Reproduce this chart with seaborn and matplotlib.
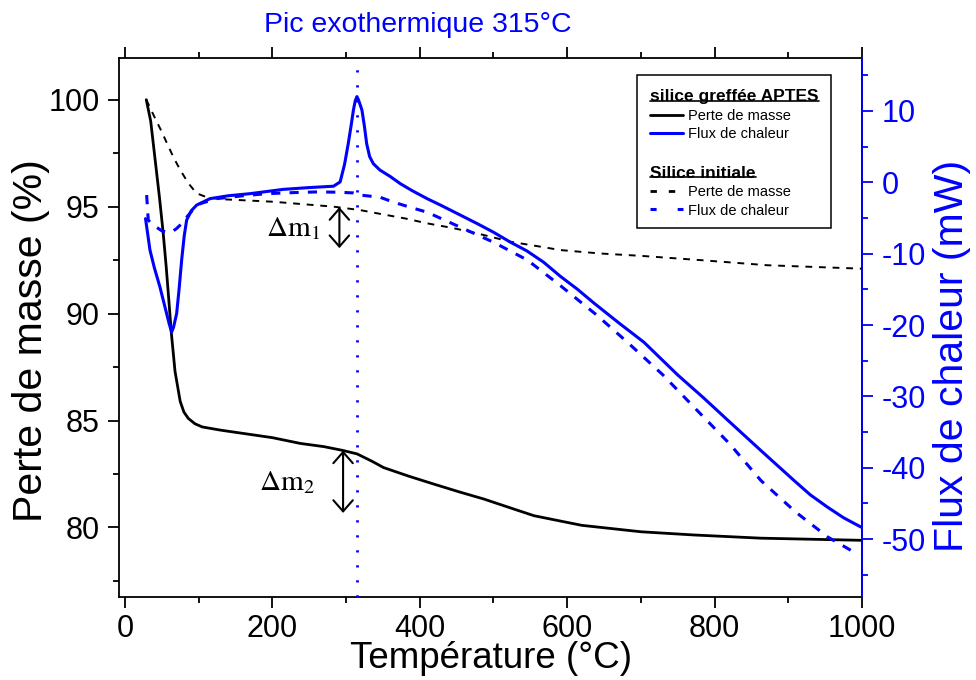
import numpy as np
import pandas as pd
import matplotlib
matplotlib.use("Agg")
import matplotlib.pyplot as plt
import seaborn as sns
from matplotlib.lines import Line2D
from matplotlib.patches import Rectangle
from matplotlib.transforms import Bbox

# --- data (temperature in °C) ---
# silice greffée APTES, perte de masse (%)
aptes_mass_T = [29, 35, 41, 47, 52, 56, 59, 63, 68, 75, 80, 86, 95, 105, 130, 160, 200,
                238, 270, 296, 315, 335, 351, 385, 419, 455, 487, 520, 555, 591, 620,
                660, 700, 772, 863, 1000]
aptes_mass = [100, 99.0, 97.2, 95.4, 93.75, 92.2, 90.9, 89.1, 87.3, 85.9, 85.4, 85.1, 84.85,
              84.7, 84.55, 84.4, 84.2, 83.93, 83.78, 83.6, 83.44, 83.1, 82.8, 82.4, 82.03,
              81.65, 81.33, 80.95, 80.55, 80.3, 80.1, 79.95, 79.8, 79.65, 79.5, 79.4]

# silice initiale, perte de masse (%)
init_mass_T = [29, 40, 50, 57, 66, 75, 86, 97, 111, 130, 160, 201, 240, 283, 319, 342, 380,
               410, 445, 478, 523, 560, 591, 645, 700, 781, 872, 1000]
init_mass = [100, 99.2, 98.5, 97.97, 97.3, 96.72, 96.1, 95.63, 95.44, 95.35, 95.3, 95.23,
             95.12, 95.0, 94.84, 94.69, 94.45, 94.22, 94.0, 93.75, 93.36, 93.15, 92.97,
             92.81, 92.7, 92.5, 92.26, 92.1]

# silice greffée APTES, flux de chaleur (mW)
aptes_flux_T = [28, 34, 40, 47.6, 56.6, 60, 63.4, 66, 70.2, 73.5, 77, 80.5, 83.8, 90, 97.4,
                115.5, 140, 170, 215, 250, 283, 292, 298, 303, 307, 310, 312.5, 314.8, 317,
                319, 321.6, 325, 328, 332, 337, 346, 360, 373.6, 390, 410, 430, 455, 478,
                500, 523, 545, 568, 591, 614, 636, 670, 704, 750, 785, 817.5, 863, 908,
                930, 953, 975, 998.6]
aptes_flux = [-5.1, -9.5, -12.0, -14.7, -18.4, -19.8, -21.0, -20.3, -18.4, -15.0, -10.9,
              -7.5, -5.3, -4.0, -3.2, -2.3, -1.9, -1.6, -1.0, -0.75, -0.56, 0.04, 2.5, 5.4,
              8.0, 10.1, 11.4, 12.0, 11.5, 10.9, 10.1, 7.8, 5.4, 3.6, 2.6, 1.7, 0.8, -0.2,
              -1.2, -2.3, -3.3, -4.6, -5.8, -7.0, -8.4, -9.6, -11.2, -13.2, -15.0, -16.9,
              -19.7, -22.4, -27.0, -30.2, -33.3, -37.6, -41.8, -43.8, -45.5, -47.0, -48.3]

# silice initiale, flux de chaleur (mW)
init_flux_T = [29.5, 31.7, 36, 42.7, 50, 56.6, 63, 70, 77, 83.8, 92, 102, 124.6, 160,
               192.5, 230, 260, 290, 310, 319, 346, 364.6, 390, 410, 455, 500, 546, 591,
               640, 681.6, 730, 772, 820, 863, 910, 953.6, 994]
init_flux = [-1.8, -5.3, -5.8, -6.3, -6.8, -7.0, -7.0, -6.5, -5.8, -4.9, -3.9, -3.0, -2.3,
             -1.9, -1.6, -1.45, -1.36, -1.4, -1.5, -1.8, -2.1, -2.8, -3.6, -4.2, -6.3,
             -8.4, -10.9, -14.5, -18.6, -22.4, -27.0, -31.5, -36.6, -41.8, -46.2, -49.7,
             -52.1]

peak_T = 315
dm1 = (291, 94.98, 93.06)   # T, top, bottom
dm2 = (296, 83.6, 80.68)

BLUE = "#0000ff"

sns.set_style("ticks")
plt.rcParams["font.family"] = ["Liberation Sans", "DejaVu Sans"]
plt.rcParams["axes.unicode_minus"] = False
plt.rcParams["mathtext.fontset"] = "stix"
for k in ("text.color", "axes.labelcolor", "xtick.color", "ytick.color", "axes.edgecolor"):
    plt.rcParams[k] = "black"

fig = plt.figure(figsize=(9.76, 6.8), dpi=100)
ax = fig.add_axes([119 / 976, 1 - 597 / 680, (862 - 119) / 976, (597 - 58) / 680])
ax2 = ax.twinx()

df_am = pd.DataFrame({"T": aptes_mass_T, "m": aptes_mass})
df_im = pd.DataFrame({"T": init_mass_T, "m": init_mass})
df_af = pd.DataFrame({"T": aptes_flux_T, "f": aptes_flux})
df_if = pd.DataFrame({"T": init_flux_T, "f": init_flux})

sns.lineplot(data=df_im, x="T", y="m", ax=ax, color="black", lw=1.4,
             linestyle=(0, (3.5, 3.5)), estimator=None)
sns.lineplot(data=df_am, x="T", y="m", ax=ax, color="black", lw=2.0, estimator=None)
sns.lineplot(data=df_if, x="T", y="f", ax=ax2, color=BLUE, lw=2.2,
             linestyle=(0, (3, 3)), estimator=None)
sns.lineplot(data=df_af, x="T", y="f", ax=ax2, color=BLUE, lw=2.2, estimator=None)
ax2.axvline(peak_T, color=BLUE, lw=2, linestyle=(0, (0.8, 4.6)))

ax.set_xlim(-8, 1000)
ax.set_ylim(76.75, 101.95)
ax2.set_ylim(-58.1, 17.4)

ax.set_xticks(range(0, 1001, 200))
ax.set_xticks(range(0, 1001, 100), minor=True)
ax.set_yticks([80, 85, 90, 95, 100])
ax.set_yticks(np.arange(77.5, 101, 2.5), minor=True)
ax2.set_yticks(range(-50, 11, 10))
ax2.set_yticks(range(-55, 16, 5), minor=True)

ax.tick_params(axis="both", which="major", labelsize=22, length=8, width=1.3,
               direction="out", pad=6, colors="black")
ax.tick_params(axis="x", which="major", pad=4)
ax.tick_params(axis="both", which="minor", length=4, width=1.3, direction="out",
               colors="black")
ax.tick_params(axis="x", top=True, which="both")
ax.tick_params(axis="y", right=False, which="both")
ax2.tick_params(axis="y", which="major", labelsize=22, length=8, width=1.3,
                colors=BLUE, pad=6)
ax2.tick_params(axis="y", which="minor", length=4, width=1.3, colors=BLUE)

for sp in ax.spines.values():
    sp.set_linewidth(1.3)
    sp.set_visible(True)
    sp.set_color("black")
for sp in ax2.spines.values():
    sp.set_visible(False)
ax2.spines["right"].set_visible(True)
ax2.spines["right"].set_color(BLUE)
ax2.spines["right"].set_linewidth(1.3)

ax.set_xlabel("Température (°C)", fontsize=26.5)
ax.set_ylabel("Perte de masse (%)", fontsize=29.5)
ax2.set_ylabel("Flux de chaleur (mW)", fontsize=29.5, color=BLUE)
ax.xaxis.set_label_coords(0.5, -0.082)
ax.yaxis.set_label_coords(-0.093, 0.476)
ax2.yaxis.set_label_coords(1.095, 0.448)

ax.text(398, 103.5, "Pic exothermique 315°C", color=BLUE, fontsize=20.5,
        ha="center", va="center", clip_on=False)

# delta m annotations
arrow = dict(arrowstyle="<->,head_length=0.4,head_width=0.35", lw=1.5, color="black",
             shrinkA=0, shrinkB=0, mutation_scale=20)
ax.annotate("", xy=(dm1[0], dm1[2]), xytext=(dm1[0], dm1[1]), arrowprops=arrow)
ax.annotate("", xy=(dm2[0], dm2[2]), xytext=(dm2[0], dm2[1]), arrowprops=arrow)
ax.text(265, (dm1[1] + dm1[2]) / 2, r"$\Delta\mathrm{m}_1$", fontsize=21,
        ha="right", va="center")
ax.text(258, (dm2[1] + dm2[2]) / 2, r"$\Delta\mathrm{m}_2$", fontsize=21,
        ha="right", va="center")

# legends
h1 = [Line2D([], [], color="black", lw=2.0), Line2D([], [], color=BLUE, lw=2.2)]
h2 = [Line2D([], [], color="black", lw=2.0, linestyle=(0, (2.3, 4.3))),
      Line2D([], [], color=BLUE, lw=2.2, linestyle=(0, (2, 6.9)))]
labels = ["Perte de masse", "Flux de chaleur"]
common = dict(loc="upper left", frameon=False, alignment="left", fontsize=10.5,
              title_fontproperties={"weight": "bold", "size": 12.5}, handlelength=2.26,
              handletextpad=0.35, borderpad=0, labelspacing=0.3, borderaxespad=0)
leg1 = ax2.legend(h1, labels, title="silice greffée APTES",
                  bbox_to_anchor=(0.715, 0.942), **common)
ax2.add_artist(leg1)
leg2 = ax2.legend(h2, labels, title="Silice initiale",
                  bbox_to_anchor=(0.715, 0.800), **common)

fig.canvas.draw()
r = fig.canvas.get_renderer()
inv = fig.transFigure.inverted()
bbs = []
for leg in (leg1, leg2):
    tb = leg.get_title().get_window_extent(r)
    (x0, y0), (x1, y1) = inv.transform([[tb.x0, tb.y0], [tb.x1, tb.y1]])
    fig.add_artist(Line2D([x0, x1], [y0 + 0.005, y0 + 0.005], transform=fig.transFigure,
                          color="black", lw=1.2))
    bbs.append(leg.get_window_extent(r))
u = Bbox.union(bbs)
(bx0, by0), (bx1, by1) = inv.transform([[u.x0 - 13, u.y0 - 10], [u.x1 + 12, u.y1 + 14]])
fig.add_artist(Rectangle((bx0, by0), bx1 - bx0, by1 - by0, transform=fig.transFigure,
                         fill=False, edgecolor="black", lw=1.1))

fig.savefig("out.png", dpi=100)
